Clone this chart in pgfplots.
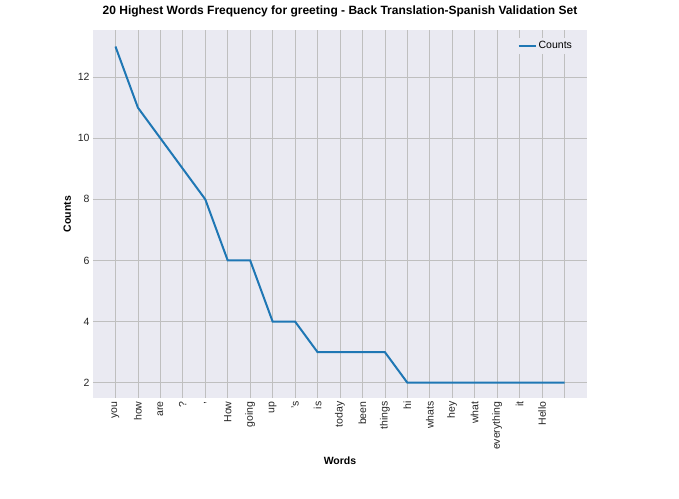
\documentclass[border=0pt]{standalone}
\usepackage{pgfplots}
\pgfplotsset{compat=1.18}
\usepackage{fontspec}
\setmainfont{Liberation Sans}
\definecolor{bg}{HTML}{EAEAF2}
\definecolor{c1}{HTML}{1F77B4}
\begin{document}
\begin{tikzpicture}
\begin{axis}[
 scale only axis, width=494pt, height=368pt,
 axis background/.style={fill=bg},
 axis line style={draw=none},
 tick style={draw=none},
 grid=both, grid style={draw=gray!50, line width=0.8pt},
 xmin=-1, xmax=21, ymin=1.5, ymax=13.54,
 xtick={0,...,20},
 xticklabels={you,how,are,?,{,},How,going,up,'s,is,today,been,things,hi,whats,hey,what,everything,it,Hello},
 xticklabel style={rotate=90, anchor=east},
 ytick={2,4,6,8,10,12},
 /pgf/number format/assume math mode=true,
 tick label style={font=\fontsize{10.5}{12}\selectfont, text=black!85},
 xlabel={\textbf{Words}}, ylabel={\textbf{Counts}},
 label style={font=\fontsize{10.5}{12}\selectfont},
 title={\textbf{20 Highest Words Frequency for greeting - Back Translation-Spanish Validation Set}},
 title style={font=\fontsize{12}{14}\selectfont, at={(0.5,1)}, anchor=south, yshift=3pt},
 legend style={draw=none, fill=bg, at={(0.98,0.98)}, anchor=north east, font=\fontsize{10.5}{12}\selectfont},
 legend cell align=left,
]
\addplot[c1, line width=2pt] coordinates {
(0,13)(1,11)(2,10)(3,9)(4,8)(5,6)(6,6)(7,4)(8,4)(9,3)(10,3)(11,3)(12,3)(13,2)(14,2)(15,2)(16,2)(17,2)(18,2)(19,2)(20,2)};
\addlegendentry{Counts}
\end{axis}
\pgfresetboundingbox
\path (-93pt,-100pt) rectangle (586pt,398pt);
\end{tikzpicture}
\end{document}
